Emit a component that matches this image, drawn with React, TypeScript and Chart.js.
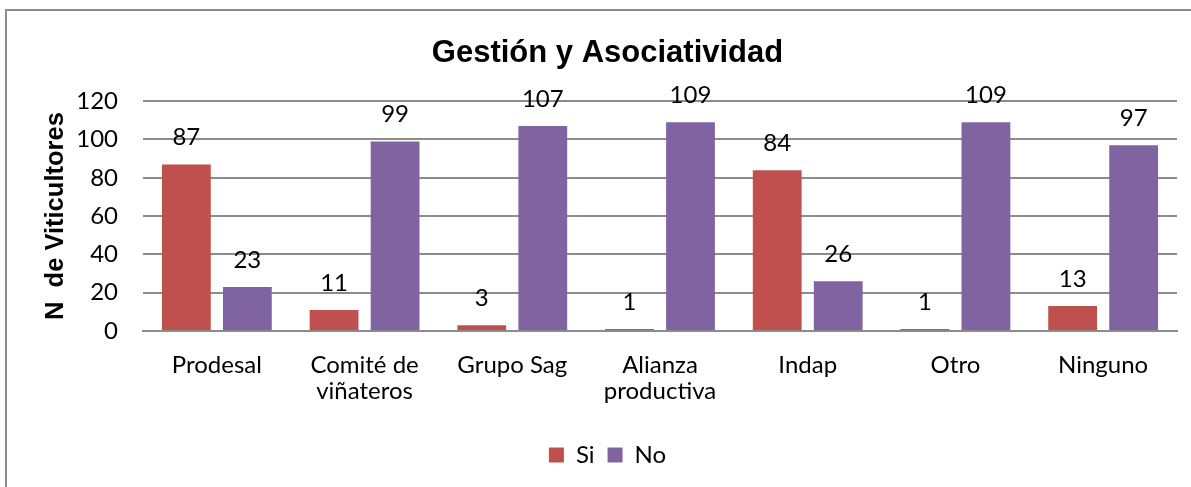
import React, { useEffect, useRef } from "react";
import { Chart, registerables } from "chart.js";

Chart.register(...registerables);

const categories: (string | string[])[] = [
  "Prodesal",
  ["Comité de", "viñateros"],
  "Grupo Sag",
  ["Alianza", "productiva"],
  "Indap",
  "Otro",
  "Ninguno",
];
const siValues = [87, 11, 3, 1, 84, 1, 13];
const noValues = [23, 99, 107, 109, 26, 109, 97];
const seriesNames = ["Si", "No"];
const titleText = "Gestión y Asociatividad";
const yAxisTitle = "N  de Viticultores";
const yMin = 0;
const yMax = 120;
const yStep = 20;

const BODY_FONT = "Lato, 'Open Sans', sans-serif";
const BOLD_FONT = "'Liberation Sans', Arial, sans-serif";

const dataLabelPlugin = {
  id: "dataLabels",
  afterDatasetsDraw(chart: any) {
    const ctx = chart.ctx;
    ctx.save();
    ctx.font = `24px ${BODY_FONT}`;
    ctx.fillStyle = "#000";
    ctx.textAlign = "center";
    ctx.textBaseline = "middle";
    chart.data.datasets.forEach((ds: any, di: number) => {
      const meta = chart.getDatasetMeta(di);
      meta.data.forEach((el: any, i: number) => {
        ctx.fillText(String(ds.data[i]), el.x, el.y - 27);
      });
    });
    ctx.restore();
  },
};

export default function App() {
  const canvasRef = useRef<HTMLCanvasElement | null>(null);

  useEffect(() => {
    const canvas = canvasRef.current;
    if (!canvas) return;
    const chart = new Chart(canvas, {
      type: "bar",
      data: {
        labels: categories,
        datasets: [
          {
            label: seriesNames[0],
            data: siValues,
            backgroundColor: "#C0504D",
            categoryPercentage: 0.826,
            barPercentage: 0.8,
          },
          {
            label: seriesNames[1],
            data: noValues,
            backgroundColor: "#8064A2",
            categoryPercentage: 0.826,
            barPercentage: 0.8,
          },
        ],
      },
      options: {
        animation: false,
        responsive: false,
        maintainAspectRatio: false,
        layout: { padding: { left: 38, right: 14, top: 0, bottom: 10 } },
        plugins: {
          tooltip: { enabled: false },
          title: {
            display: true,
            text: titleText,
            color: "#000",
            font: { family: BOLD_FONT, size: 31, weight: "bold" },
            padding: { top: 35, bottom: 29 },
          },
          legend: {
            display: true,
            position: "bottom",
            labels: {
              color: "#000",
              font: { family: BODY_FONT, size: 24 },
              boxWidth: 15,
              boxHeight: 15,
              padding: 13,
            },
          },
        },
        scales: {
          x: {
            grid: { display: false, drawTicks: false },
            border: { display: true, color: "#8c8c8c", width: 2 },
            ticks: {
              color: "#000",
              font: { family: BODY_FONT, size: 24, lineHeight: 1.05 },
              padding: 22,
              maxRotation: 0,
              autoSkip: false,
            },
            afterFit: (scale: any) => {
              scale.height = 99;
            },
          },
          y: {
            min: yMin,
            max: yMax,
            grid: { color: "#8c8c8c", lineWidth: 2, drawTicks: false },
            border: { display: false },
            ticks: {
              stepSize: yStep,
              color: "#000",
              font: { family: BODY_FONT, size: 24 },
              padding: 25,
            },
            title: {
              display: true,
              text: yAxisTitle,
              color: "#000",
              font: { family: BOLD_FONT, size: 25.5, weight: "bold" },
              padding: { top: 3, bottom: 0 },
            },
            afterFit: (scale: any) => {
              scale.width = 105;
            },
          },
        },
      },
      plugins: [dataLabelPlugin],
    } as any);
    return () => chart.destroy();
  }, []);

  return (
    <div
      style={{
        position: "fixed",
        left: 0,
        top: 0,
        width: 1191,
        height: 487,
        overflow: "hidden",
        background: "#fff",
      }}
    >
      <div
        style={{
          position: "absolute",
          left: 5,
          top: 9,
          width: 1300,
          height: 600,
          border: "2px solid #8c8c8c",
        }}
      />
      <canvas
        ref={canvasRef}
        width={1191}
        height={487}
        style={{ position: "absolute", left: 0, top: 0, width: 1191, height: 487 }}
      />
    </div>
  );
}
